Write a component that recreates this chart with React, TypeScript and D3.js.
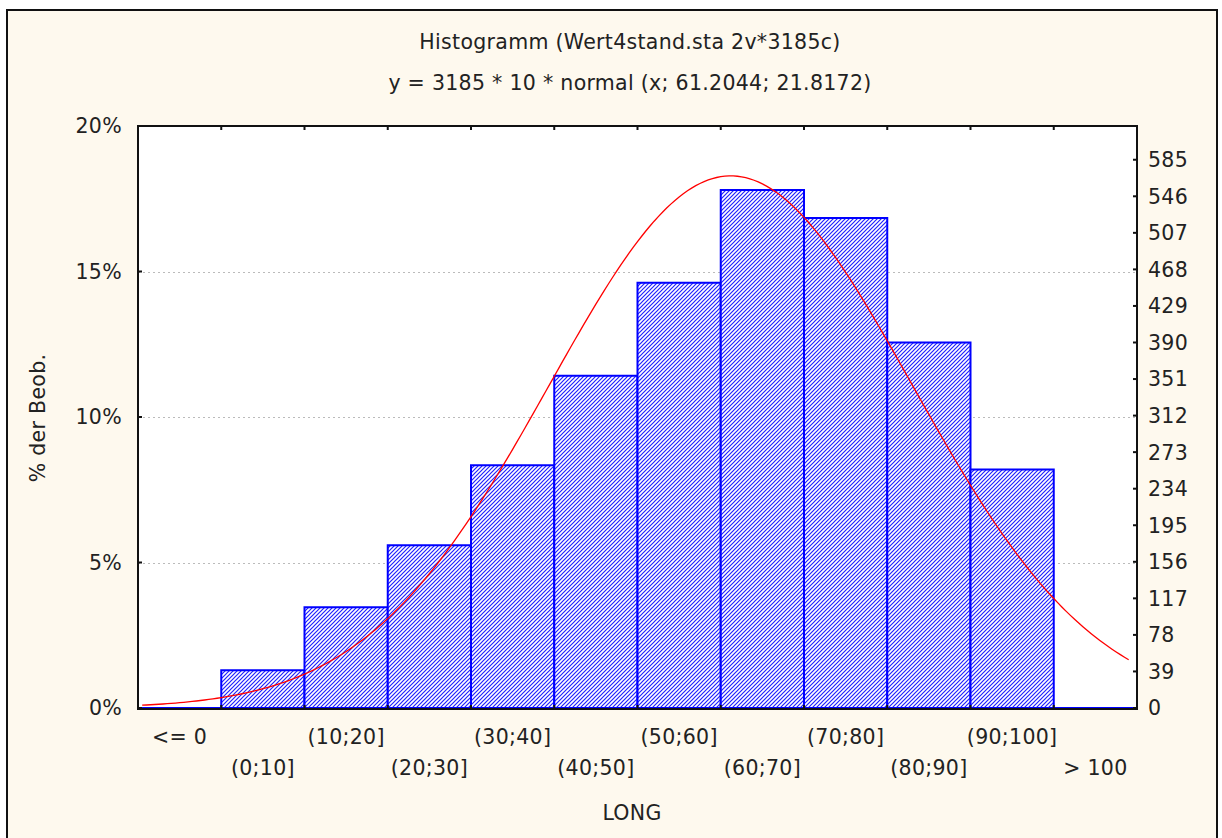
import React from "react";
import * as d3 from "d3";

const categories = ["<= 0", "(0;10]", "(10;20]", "(20;30]", "(30;40]", "(40;50]", "(50;60]", "(60;70]", "(70;80]", "(80;90]", "(90;100]", "> 100"];
const percents = [0, 1.30, 3.46, 5.59, 8.34, 11.42, 14.61, 17.80, 16.84, 12.56, 8.20, 0];
const leftTicks = [0, 5, 10, 15, 20];
const gridTicks = [5, 10, 15];
const rightTicks = [0, 39, 78, 117, 156, 195, 234, 273, 312, 351, 390, 429, 468, 507, 546, 585];
const titleLines = ["Histogramm (Wert4stand.sta 2v*3185c)", "y = 3185 * 10 * normal (x; 61.2044; 21.8172)"];
const nObs = 3185;
const binWidth = 10;
const fitMean = 61.2044;
const fitSd = 21.8172;
const curveRange = [-9.5, 109];

const W = 1222, H = 838;
const L = 138, T = 126, R = 1137, B = 709;
const FONT = "'DejaVu Sans', Verdana, sans-serif";
const FS = 20.5;
const LS = 0.3;
const TXT = "#222";

export default function App() {
  const band = d3.scaleBand<string>().domain(categories).range([L, R]).paddingInner(0).paddingOuter(0);
  const xv = d3.scaleLinear().domain([-10, 110]).range([L, R]);
  const y = d3.scaleLinear().domain([0, 20]).range([708, T]);
  const yr = d3.scaleLinear().domain([0, 621]).range([708, T]);

  const curvePts: [number, number][] = [];
  for (let v = curveRange[0]; v <= curveRange[1] + 1e-9; v += 0.5) {
    const z = (v - fitMean) / fitSd;
    const cnt = nObs * binWidth * Math.exp(-0.5 * z * z) / (fitSd * Math.sqrt(2 * Math.PI));
    curvePts.push([v, (cnt / nObs) * 100]);
  }
  const line = d3.line<[number, number]>().x(d => xv(d[0])).y(d => y(d[1])).curve(d3.curveLinear);

  const bw = band.bandwidth();

  return (
    <svg width={W} height={H} style={{ position: "absolute", left: 0, top: 0 }} fontFamily={FONT} letterSpacing={LS}>
      <defs>
        <pattern id="hatch" patternUnits="userSpaceOnUse" width={4} height={4}>
          <rect width={4} height={4} fill="#fff" />
          <path d="M-1,1 l2,-2 M0,4 l4,-4 M3,5 l2,-2" stroke="#2020ff" strokeWidth={1.2} />
        </pattern>
      </defs>
      <rect x={0} y={0} width={W} height={H} fill="#fff" />
      <rect x={7} y={10} width={1210} height={H} fill="#FEF9EE" stroke="#111" strokeWidth={2} />
      {titleLines.map((t, i) => (
        <text key={i} x={630} y={49 + i * 41} textAnchor="middle" fontSize={FS} fill={TXT}>{t}</text>
      ))}
      <rect x={L} y={T} width={R - L} height={B - T} fill="#fff" />
      {gridTicks.map(t => (
        <line key={t} x1={L} x2={R} y1={Math.round(y(t)) + 0.5} y2={Math.round(y(t)) + 0.5} stroke="#bbb" strokeDasharray="2,3" />
      ))}
      {categories.map((c, i) => {
        const x0 = band(c)!;
        const x1 = x0 + bw;
        const y0 = y(0);
        const y1 = y(percents[i]);
        return (
          <path key={c} d={`M${x0},${y0}V${y1}H${x1}V${y0}Z`} fill="url(#hatch)" stroke="#0000ff" strokeWidth={2} />
        );
      })}
      <path d={line(curvePts) || ""} fill="none" stroke="#ff0000" strokeWidth={1.3} />
      <rect x={L} y={T} width={R - L} height={B - T} fill="none" stroke="#111" strokeWidth={2} />
      {categories.slice(1).map(c => (
        <g key={c}>
          <line x1={band(c)!} x2={band(c)!} y1={T} y2={T + 4} stroke="#111" strokeWidth={2} />
          <line x1={band(c)!} x2={band(c)!} y1={B} y2={B - 4} stroke="#111" strokeWidth={2} />
        </g>
      ))}
      {leftTicks.map(t => (
        <g key={t}>
          <line x1={L} x2={L + 4} y1={y(t)} y2={y(t)} stroke="#111" strokeWidth={2} />
          <text x={122} y={y(t)} dy="0.36em" textAnchor="end" fontSize={FS} fill={TXT}>{t}%</text>
        </g>
      ))}
      {rightTicks.map(t => (
        <g key={t}>
          <line x1={R - 4} x2={R} y1={yr(t)} y2={yr(t)} stroke="#111" strokeWidth={2} />
          <text x={1148} y={yr(t)} dy="0.36em" textAnchor="start" fontSize={FS} fill={TXT}>{t}</text>
        </g>
      ))}
      {categories.map((c, i) => (
        <text key={c} x={band(c)! + bw / 2} y={i % 2 === 0 ? 744 : 775} textAnchor="middle" fontSize={FS} fill={TXT}>{c}</text>
      ))}
      <text x={632} y={820} textAnchor="middle" fontSize={FS} fill={TXT}>LONG</text>
      <text transform={`translate(45,418) rotate(-90)`} textAnchor="middle" fontSize={FS} fill={TXT}>% der Beob.</text>
    </svg>
  );
}
